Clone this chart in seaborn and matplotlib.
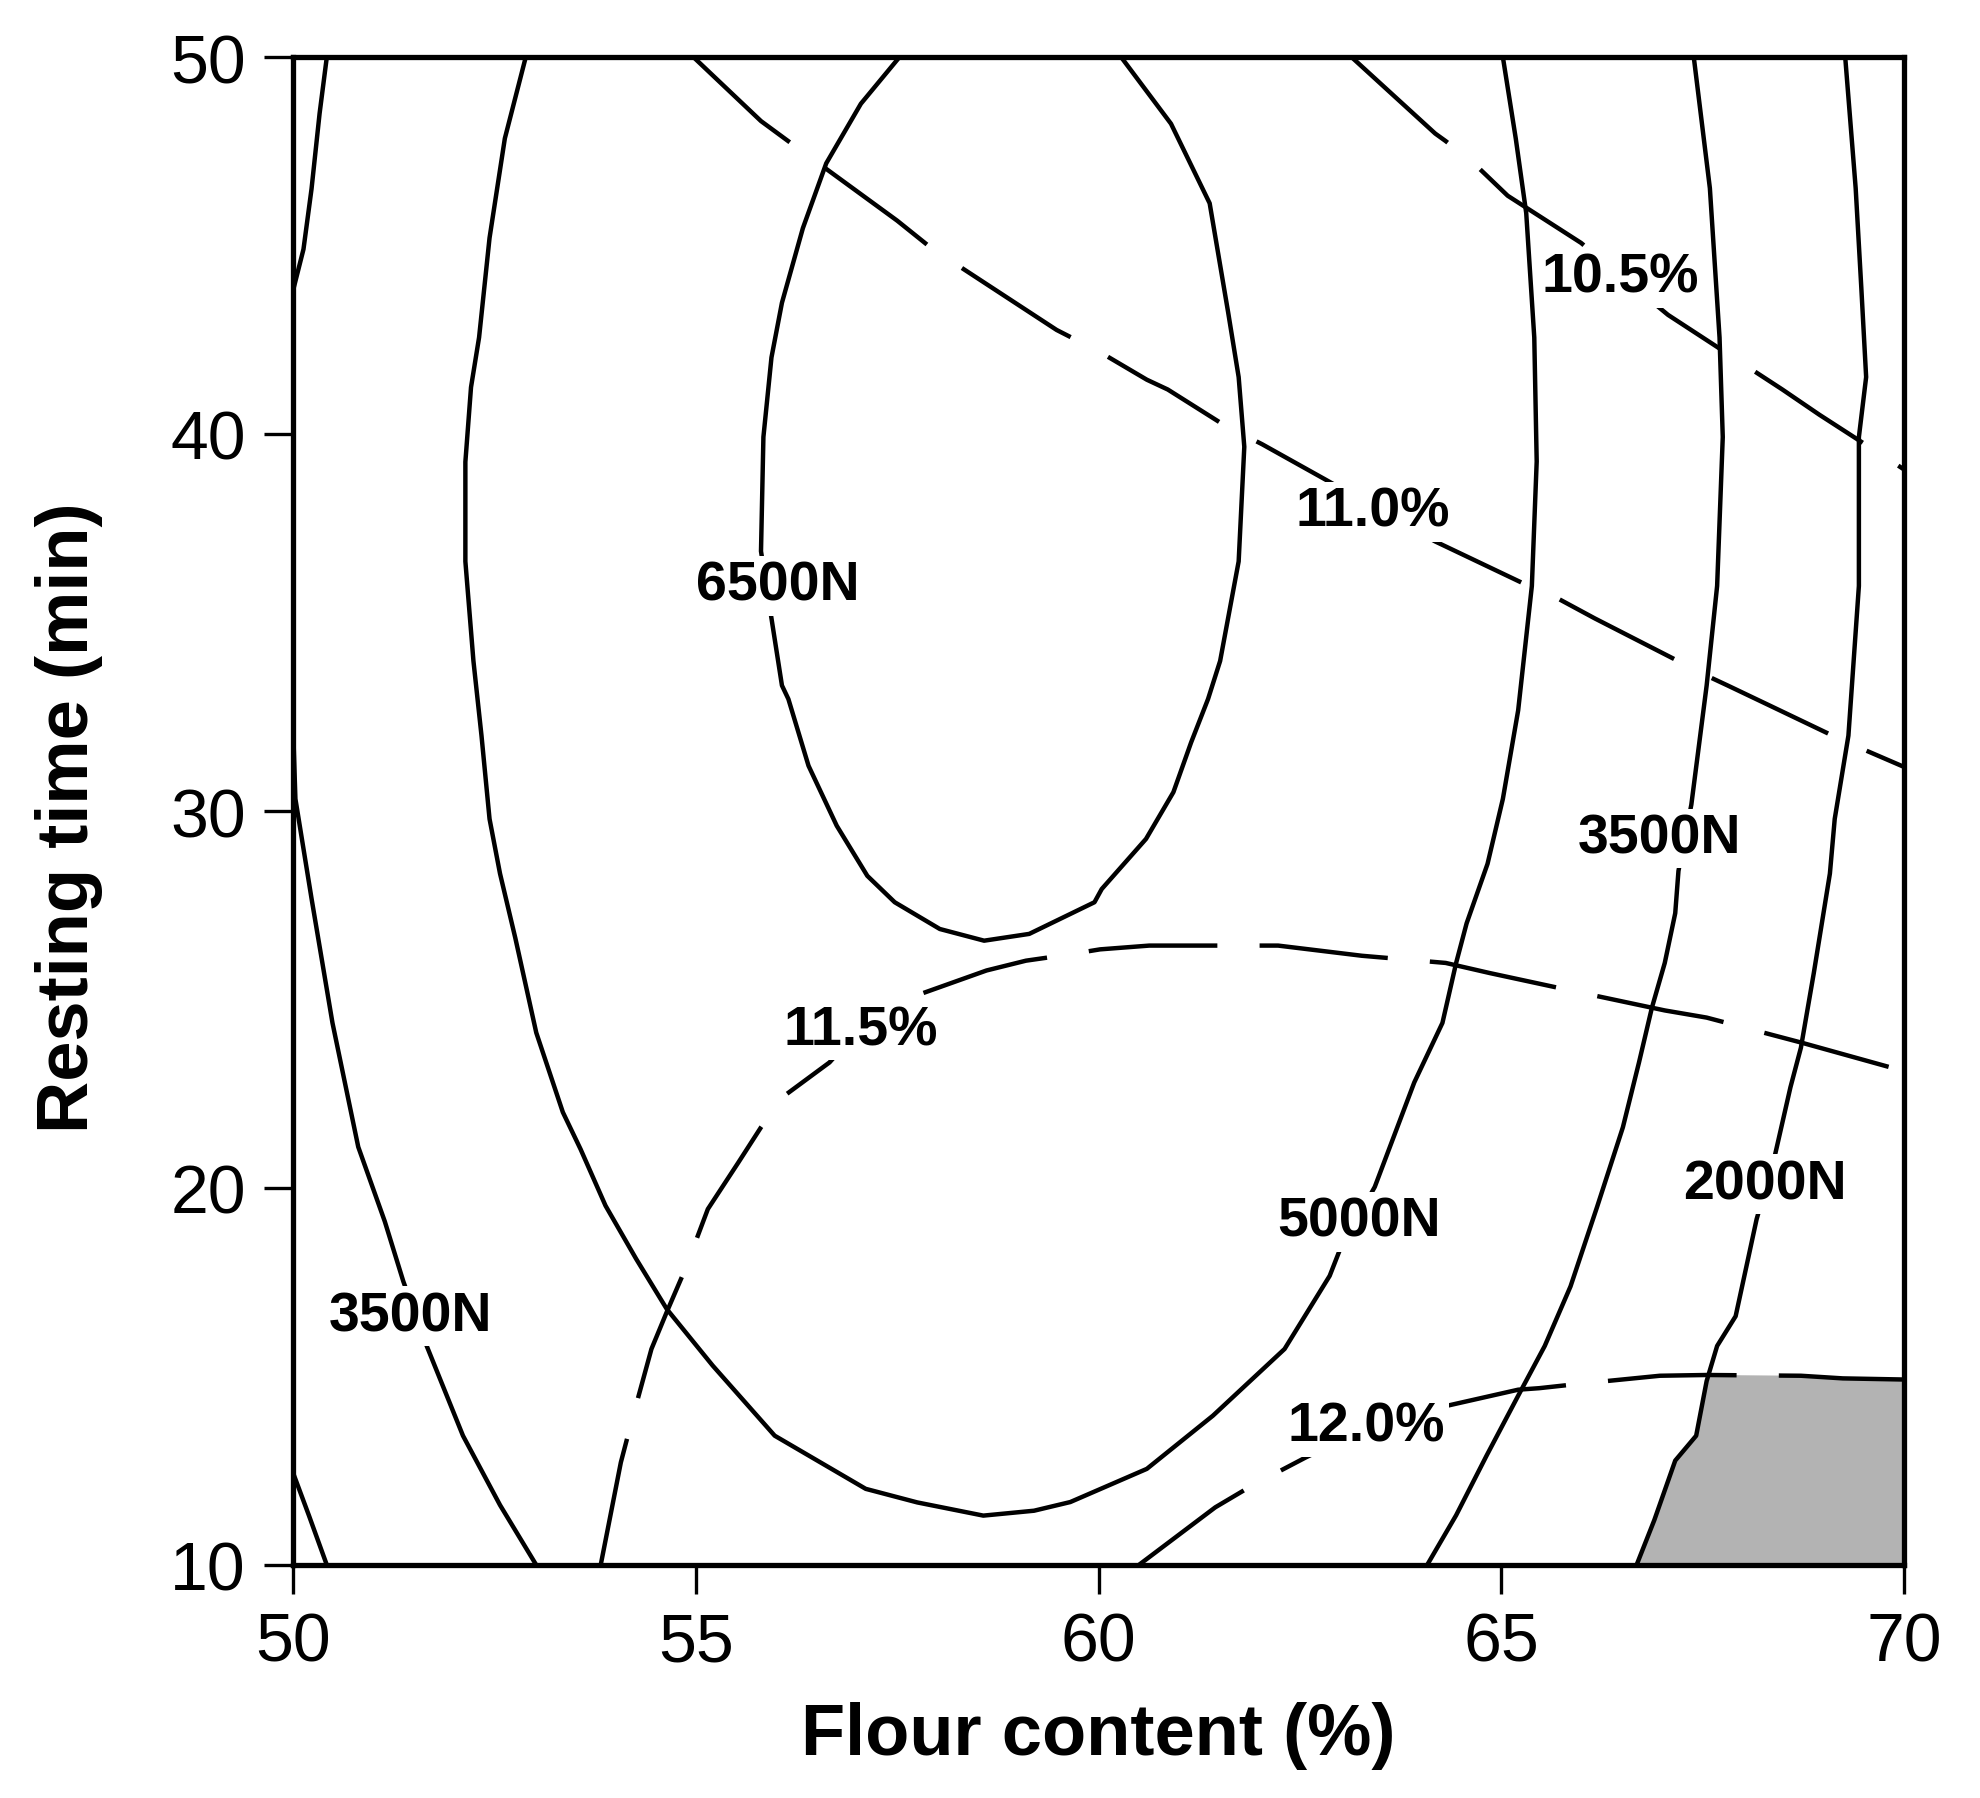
import matplotlib
matplotlib.use("Agg")
import matplotlib.pyplot as plt
import numpy as np
import pandas as pd
import seaborn as sns

# ---------------- data ----------------
flour_ticks = [50, 55, 60, 65, 70]
time_ticks = [10, 20, 30, 40, 50]

# breaking force contours (solid)
f2000_lt_x = [50.42, 50.33, 50.23, 50.13, 50.0]
f2000_lt_y = [50.0, 48.5, 46.5, 44.9, 43.8]
f2000_lb_x = [50.0, 50.2, 50.42]
f2000_lb_y = [12.45, 11.3, 10.0]
f3500_l_x = [50.0, 50.03, 50.23, 50.49, 50.81, 51.14, 51.37, 51.66, 52.11, 52.57, 53.02]
f3500_l_y = [32.3, 30.32, 27.68, 24.38, 21.09, 19.11, 17.52, 15.81, 13.43, 11.59, 10.0]
f5000_x = [52.89, 52.63, 52.44, 52.31, 52.21, 52.14, 52.14, 52.24, 52.34, 52.44, 52.57,
           52.76, 53.02, 53.35, 53.57, 53.88, 54.26, 54.64, 55.21, 55.98, 57.11, 57.75,
           58.57, 59.20, 59.65, 60.60, 61.42, 62.31, 62.87, 63.0, 63.43, 63.92, 64.27,
           64.44, 64.57, 64.83, 65.02, 65.21, 65.38, 65.44, 65.41, 65.31, 65.18, 65.02]
f5000_y = [50.0, 47.84, 45.20, 42.56, 41.24, 39.26, 36.62, 33.98, 32.0, 29.79, 28.34,
           26.63, 24.12, 22.01, 21.03, 19.53, 18.12, 16.79, 15.29, 13.43, 12.02, 11.66,
           11.31, 11.44, 11.67, 12.55, 13.96, 15.73, 17.67, 18.38, 20.03, 22.8, 24.38,
           25.97, 27.02, 28.6, 30.32, 32.67, 35.97, 39.27, 42.56, 45.86, 47.84, 50.0]
f6500_x = [57.53, 57.05, 56.62, 56.33, 56.07, 55.94, 55.84, 55.81, 55.94, 56.07, 56.15,
           56.40, 56.75, 57.13, 57.47, 58.03, 58.58, 59.14, 59.95, 60.04, 60.59, 60.93,
           61.15, 61.36, 61.51, 61.74, 61.81, 61.74, 61.61, 61.38, 60.90, 60.28]
f6500_y = [50.0, 48.76, 47.18, 45.46, 43.48, 42.03, 39.92, 36.89, 35.11, 33.33, 32.97,
           31.20, 29.61, 28.28, 27.58, 26.87, 26.56, 26.74, 27.58, 27.93, 29.26, 30.50,
           31.82, 32.97, 33.98, 36.62, 39.66, 41.51, 43.22, 46.12, 48.23, 50.0]
f3500_r_x = [67.39, 67.59, 67.71, 67.75, 67.68, 67.55, 67.36, 67.2, 67.16, 67.03, 66.87,
             66.71, 66.51, 66.19, 65.86, 65.54, 65.21, 64.82, 64.44, 64.08]
f3500_r_y = [50.0, 46.52, 42.56, 39.92, 35.97, 33.33, 30.17, 28.41, 27.29, 25.97, 24.78,
             23.33, 21.61, 19.5, 17.39, 15.81, 14.49, 12.91, 11.32, 10.0]
f2000_r_x = [69.27, 69.40, 69.47, 69.53, 69.44, 69.44, 69.31, 69.14, 69.08, 68.88, 68.72,
             68.59, 68.40, 68.17, 68.07, 67.91, 67.68, 67.55, 67.42, 67.16, 66.90, 66.68]
f2000_r_y = [50.0, 46.52, 43.88, 41.51, 39.92, 35.97, 32.0, 29.79, 28.34, 25.7, 23.72,
             22.67, 20.89, 19.17, 18.18, 16.6, 15.81, 14.88, 13.43, 12.77, 11.19, 10.0]

# moisture contours (dashed)
m105_x = [63.14, 64.18, 64.31, 64.66, 65.08, 65.99, 67.07, 68.49, 68.95, 69.95, 70.0]
m105_y = [50.0, 47.97, 47.77, 47.18, 46.32, 45.07, 43.16, 41.18, 40.51, 39.13, 39.06]
m110_x = [54.97, 55.81, 56.23, 57.50, 57.92, 59.48, 60.02, 60.60, 60.86, 61.55, 62.03,
          62.81, 64.18, 65.34, 65.70, 66.16, 67.55, 67.81, 68.33, 69.24, 70.0]
m110_y = [50.0, 48.30, 47.64, 45.66, 44.94, 42.76, 42.17, 41.44, 41.18, 40.25, 39.73,
          38.80, 37.15, 35.97, 35.64, 35.11, 33.59, 33.33, 32.80, 31.87, 31.17]
m115_x = [53.82, 54.07, 54.20, 54.45, 54.64, 54.87, 55.15, 55.53, 55.81, 56.07, 56.66,
          57.05, 57.73, 58.61, 59.10, 59.59, 60.02, 60.63, 61.70, 62.23, 63.27, 64.31,
          64.86, 65.86, 67.03, 67.55, 68.72, 70.0]
m115_y = [10.0, 12.72, 13.78, 15.73, 16.71, 17.85, 19.44, 20.68, 21.61, 22.40, 23.33,
          24.25, 25.10, 25.77, 26.03, 26.18, 26.33, 26.43, 26.43, 26.43, 26.16, 25.97,
          25.70, 25.24, 24.71, 24.52, 23.86, 23.10]
m120_x = [60.50, 61.45, 61.90, 62.57, 63.33, 64.34, 65.21, 65.47, 66.03, 66.97, 67.55,
          68.72, 69.24, 70.0]
m120_y = [10.0, 11.53, 12.10, 12.85, 13.63, 14.23, 14.65, 14.69, 14.82, 15.02, 15.04,
          15.02, 14.95, 14.92]

# grey optimum region
grey_x = [66.68, 66.90, 67.16, 67.42, 67.55, 67.58, 68.72, 69.24, 70.0, 70.0]
grey_y = [10.0, 11.19, 12.77, 13.43, 14.88, 15.04, 15.02, 14.95, 14.92, 10.0]

# contour labels
label_text = ["6500N", "5000N", "3500N", "3500N", "2000N",
              "10.5%", "11.0%", "11.5%", "12.0%"]
label_x = [56.02, 63.23, 51.46, 66.97, 68.27, 66.48, 63.40, 57.05, 63.33]
label_y = [35.97, 19.1, 16.6, 29.27, 20.1, 44.14, 37.94, 24.19, 13.67]

# ---------------- build long-form table ----------------
lines = [
    ("f2000_lt", "force", f2000_lt_x, f2000_lt_y),
    ("f2000_lb", "force", f2000_lb_x, f2000_lb_y),
    ("f3500_l", "force", f3500_l_x, f3500_l_y),
    ("f5000", "force", f5000_x, f5000_y),
    ("f6500", "force", f6500_x, f6500_y),
    ("f3500_r", "force", f3500_r_x, f3500_r_y),
    ("f2000_r", "force", f2000_r_x, f2000_r_y),
    ("m105", "moisture", m105_x, m105_y),
    ("m110", "moisture", m110_x, m110_y),
    ("m115", "moisture", m115_x, m115_y),
    ("m120", "moisture", m120_x, m120_y),
]
frames = []
for lid, kind, xs, ys in lines:
    frames.append(pd.DataFrame({"flour": xs, "time": ys, "line": lid, "kind": kind}))
df = pd.concat(frames, ignore_index=True)

# ---------------- plot ----------------
sns.set_theme(style="white")
plt.rcParams["font.family"] = ["Liberation Sans", "DejaVu Sans"]
plt.rcParams["text.color"] = "black"

fig = plt.figure(figsize=(19.8, 17.99), dpi=100)
ax = fig.add_axes([293 / 1980, 1 - 1566 / 1799, 1611 / 1980, 1508 / 1799])

ax.fill(grey_x, grey_y, color="#b3b3b3", lw=0, zorder=1)

sns.lineplot(data=df, x="flour", y="time", units="line", style="kind",
             estimator=None, sort=False, color="black", linewidth=3.2,
             dashes={"force": "", "moisture": (29, 9.5)}, legend=False,
             ax=ax, zorder=2)
for ln in ax.lines:
    ln.set_linewidth(3.2)
    ln.set_solid_capstyle("butt")
    ln.set_dash_capstyle("butt")
    ln.set_solid_joinstyle("round")

for t, x, y in zip(label_text, label_x, label_y):
    ax.text(x, y, t, ha="center", va="center", fontsize=40, fontweight="bold",
            color="black", zorder=5,
            bbox=dict(facecolor="white", edgecolor="none", pad=3))

ax.set_xlim(50, 70)
ax.set_ylim(10, 50)
ax.set_xticks(flour_ticks)
ax.set_yticks(time_ticks)
ax.set_xticklabels([str(v) for v in flour_ticks])
ax.set_yticklabels([str(v) for v in time_ticks])
ax.tick_params(axis="both", which="major", direction="out", length=21, width=2.4,
               color="black", labelsize=49, labelcolor="black",
               bottom=True, left=True, top=False, right=False)
ax.tick_params(axis="x", pad=12)
ax.tick_params(axis="y", pad=13)
for s in ax.spines.values():
    s.set_visible(True)
    s.set_color("black")
    s.set_linewidth(3.8)

ax.set_xlabel("Flour content (%)", fontsize=52, fontweight="bold", color="black")
ax.set_ylabel("Resting time (min)", fontsize=52, fontweight="bold", color="black")
ax.xaxis.set_label_coords(0.5, -0.090)
ax.yaxis.set_label_coords(-0.118, 0.496)
ax.grid(False)

fig.savefig("out.png", dpi=100, facecolor="white")
